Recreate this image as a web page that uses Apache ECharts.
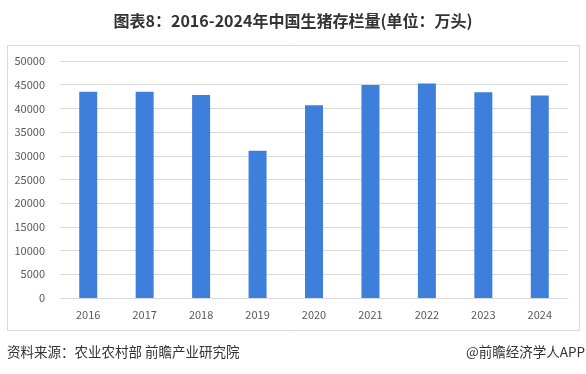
<!DOCTYPE html>
<html><head><meta charset="utf-8">
<script src="https://cdn.jsdelivr.net/npm/echarts@6/dist/echarts.min.js"></script>
<style>html,body{margin:0;padding:0;background:#fff}#c{width:586px;height:374px}</style>
</head><body><div id="c"></div>
<script>
const titleText = '图表8：2016-2024年中国生猪存栏量(单位：万头)';
const years = ['2016','2017','2018','2019','2020','2021','2022','2023','2024'];
const stock = [43504, 43500, 42817, 31041, 40650, 44922, 45256, 43422, 42743];
const sourceText = '资料来源：农业农村部 前瞻产业研究院';
const brandText = '@前瞻经济学人APP';
const font = '"Microsoft YaHei","Noto Sans CJK SC",sans-serif';
const chart = echarts.init(document.getElementById('c'));
chart.setOption({
  animation: false,
  title: {text: titleText, left: 'center', top: 8, textStyle: {fontSize: 16, fontWeight: 'bold', color: '#333', fontFamily: font}},
  grid: {left: 60, right: 18, top: 61, bottom: 76},
  xAxis: {type: 'category', data: years,
    axisLine: {lineStyle: {color: '#d9d9d9'}}, axisTick: {show: false},
    axisLabel: {color: '#595959', fontSize: 11, margin: 11, fontFamily: font}},
  yAxis: {type: 'value', min: 0, max: 50000, interval: 5000,
    axisLine: {show: false}, axisTick: {show: false},
    splitLine: {lineStyle: {color: '#d9d9d9'}},
    axisLabel: {color: '#595959', fontSize: 11, margin: 15, fontFamily: font, formatter: v => String(v)}},
  series: [{type: 'bar', data: stock, barWidth: 18, itemStyle: {color: '#3d7fdb'}}],
  graphic: [
    {type: 'rect', shape: {x: 7.5, y: 45.5, width: 572, height: 285}, style: {fill: 'none', stroke: '#d9d9d9', lineWidth: 1}, z: -1},
    {type: 'text', left: 7, top: 345, style: {text: sourceText, fontSize: 13.5, fill: '#333', fontFamily: font}},
    {type: 'text', right: 1, top: 345, style: {text: brandText, fontSize: 13.5, fill: '#333', fontFamily: font}}
  ]
});
</script></body></html>
